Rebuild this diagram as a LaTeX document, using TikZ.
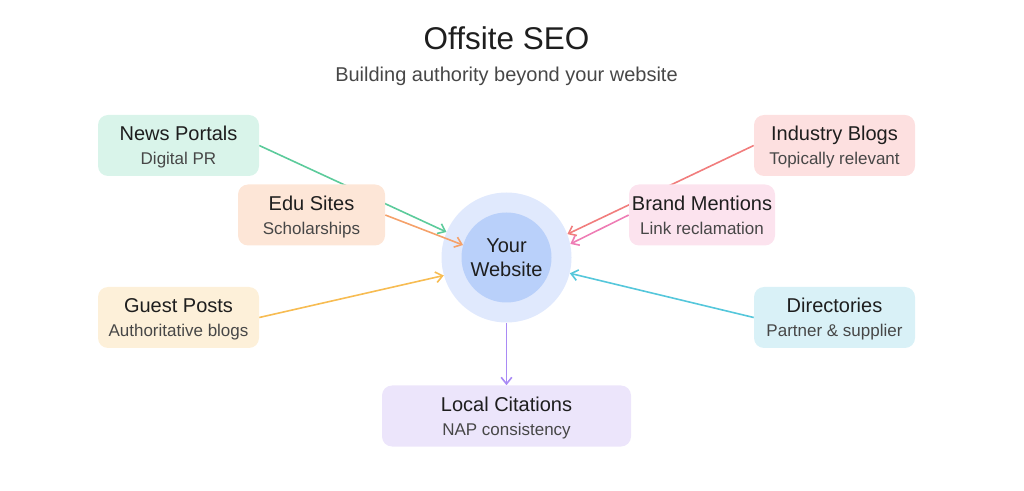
\documentclass[tikz,border=0pt]{standalone}
\usepackage{fontspec}
\setmainfont{Liberation Sans}
\usetikzlibrary{arrows.meta}
\pgfdeclarelayer{bg}
\pgfdeclarelayer{edges}
\pgfsetlayers{bg,edges,main}

\definecolor{titleink}{HTML}{1E1E1E}
\definecolor{subink}{HTML}{474747}
\definecolor{newsfill}{HTML}{D9F4EA}\definecolor{newsline}{HTML}{5CCB9B}
\definecolor{edufill}{HTML}{FDE6D7}\definecolor{eduline}{HTML}{F5A16A}
\definecolor{guestfill}{HTML}{FDF0D9}\definecolor{guestline}{HTML}{F7BC52}
\definecolor{indfill}{HTML}{FDE0E0}\definecolor{indline}{HTML}{F17D7D}
\definecolor{brandfill}{HTML}{FCE3EE}\definecolor{brandline}{HTML}{EE7DB5}
\definecolor{dirfill}{HTML}{D9F1F7}\definecolor{dirline}{HTML}{55C7DB}
\definecolor{localfill}{HTML}{ECE5FB}\definecolor{localline}{HTML}{A98AF5}
\definecolor{ringfill}{HTML}{E0E9FD}
\definecolor{corefill}{HTML}{B9D0FA}

\newcommand{\boxlabel}[2]{{\color{titleink}#1}\\{\fontsize{12.75}{18}\selectfont\color{subink}#2}}

\begin{document}
\begin{tikzpicture}[
  x=0.75pt, y=-0.75pt,
  font=\fontsize{15}{18}\selectfont,
  card/.style={rounded corners=7.5pt, fill=#1, align=center,
               minimum width=120.75pt, minimum height=45.75pt, inner sep=0pt,
               text depth=0pt},
  link/.style={-{Straight Barb[length=5pt,width=8pt]}, line width=1.2pt, draw=#1}]
\useasboundingbox (0,0) rectangle (1024,491);

\node[anchor=base, text=titleink, font=\fontsize{23.6}{28}\selectfont] (title) at (506.5,50) {Offsite SEO};
\node[anchor=base, text=subink] (subtitle) at (506.5,81.5) {Building authority beyond your website};

\begin{pgfonlayer}{bg}
\node[circle, fill=ringfill, minimum size=97.5pt, inner sep=0pt] (site) at (506.5,257.5) {};
\node[circle, fill=corefill, minimum size=67.5pt, inner sep=0pt, align=center, text=titleink] (core) at (506.5,257.5) {Your\\Website};
\end{pgfonlayer}

\node[card=newsfill] (news) at (178.5,145.5) {\boxlabel{News Portals}{Digital PR}};
\node[card=edufill, minimum width=110.25pt] (edu) at (311.5,215) {\boxlabel{Edu Sites}{Scholarships}};
\node[card=guestfill] (guest) at (178.5,317.5) {\boxlabel{Guest Posts}{Authoritative blogs}};
\node[card=indfill] (ind) at (834.5,145.5) {\boxlabel{Industry Blogs}{Topically relevant}};
\node[card=brandfill, minimum width=109.5pt] (brand) at (702,215) {\boxlabel{Brand Mentions}{Link reclamation}};
\node[card=dirfill] (dir) at (834.5,317.5) {\boxlabel{Directories}{Partner \& supplier}};
\node[card=localfill, minimum width=186.75pt] (local) at (506.5,416) {\boxlabel{Local Citations}{NAP consistency}};

\begin{pgfonlayer}{edges}
\draw[link=newsline] (news.east) -- (site.157.5);
\draw[link=eduline] (edu.east) -- (core.164);
\draw[link=guestline] (guest.east) -- (site.196);
\draw[link=indline] (ind.west) -- (site.21.6);
\draw[link=brandline] (brand.west) -- (site.12.5);
\draw[link=dirline] (dir.west) -- (site.-14.4);
\draw[link=localline] (site.south) -- (local.north);
\end{pgfonlayer}
\end{tikzpicture}
\end{document}
